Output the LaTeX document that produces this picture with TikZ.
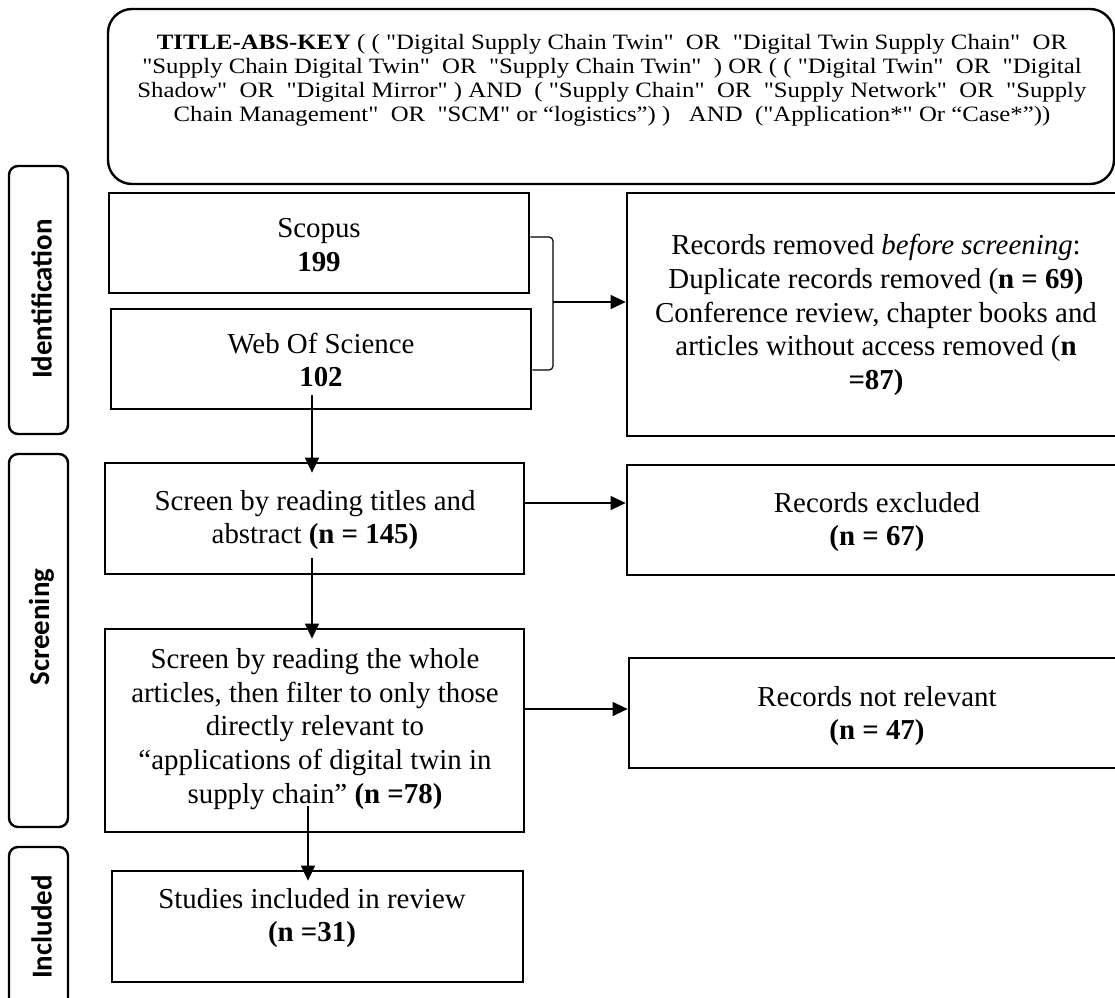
\documentclass[tikz,border=0pt]{standalone}
\usepackage{graphicx}
\usepackage{fontspec}
\setmainfont{Liberation Serif}[Ligatures=TeXOff]
\newfontfamily\labelfont{Carlito}
\usetikzlibrary{arrows.meta}

\begin{document}
\begin{tikzpicture}[x=1bp,y=-1bp,
  box/.style={draw, line width=2.7bp, inner sep=0pt},
  phase/.style={draw, line width=2.4bp, rounded corners=9bp, inner sep=0pt},
  txt/.style={align=center, font=\fontsize{29}{34}\selectfont, inner sep=0pt},
  qtxt/.style={inner sep=0pt, font=\fontsize{22}{24}\selectfont},
  flow/.style={line width=1.2bp, -{Triangle[length=15bp,width=14bp]}},
  link/.style={line width=1.2bp, rounded corners=4bp},
  phaselabel/.style={font=\labelfont\bfseries\fontsize{29}{30}\selectfont, rotate=90, inner sep=0pt}
]
\useasboundingbox (0,0) rectangle (1115,998);
\clip (0,0) rectangle (1115,998);

% search string
\node[draw, line width=2.4bp, rounded corners=24bp, minimum width=1006bp, minimum height=175bp] (query) at (611,96.5) {};
\node[qtxt] (querytxt) at (612,81) {\scalebox{1.13}[1]{\begin{tabular}{@{}c@{}}
\textbf{TITLE-ABS-KEY} ( ( "Digital Supply Chain Twin"\ \ OR\ \ "Digital Twin Supply Chain"\ \ OR\\
"Supply Chain Digital Twin"\ \ OR\ \ "Supply Chain Twin"\ \ ) OR\ ( ( "Digital Twin"\ \ OR\ \ "Digital\\
Shadow"\ \ OR\ \ "Digital Mirror" ) AND\ \ ( "Supply Chain"\ \ OR\ \ "Supply Network"\ \ OR\ \ "Supply\\
Chain Management"\ \ OR\ \ "SCM" or “logistics”) )\ \ \ AND\ \ ("Application*" Or “Case*”))
\end{tabular}}};

% phase labels
\node[phase, minimum width=59bp, minimum height=268bp] (idbox) at (38.5,300) {};
\node[phaselabel] (idlabel) at (41.5,299) {Identification};
\node[phase, minimum width=59bp, minimum height=373bp] (scbox) at (38.5,640.5) {};
\node[phaselabel] (sclabel) at (41.5,627) {Screening};
\node[phase, minimum width=59bp, minimum height=170bp] (inbox) at (38.5,932) {};
\node[phaselabel] (inlabel) at (41.5,927) {Included};

% identification
\node[box, minimum width=420bp, minimum height=100bp] (scopus) at (319,243) {};
\node[txt] (scopustxt) at (319,245) {Scopus\\\textbf{199}};
\node[box, minimum width=420bp, minimum height=100bp] (wos) at (321,359) {};
\node[txt] (wostxt) at (321,360) {Web Of Science\\\textbf{102}};

\node[box, minimum width=500bp, minimum height=243bp] (removed) at (877,314.5) {};
\node[txt] (removedtxt) at (876,315) {Records removed \textit{before screening}:\\
Duplicate records removed (\textbf{n = 69)}\\
Conference review, chapter books and\\
articles without access removed (\textbf{n}\\
\textbf{=87)}};

% screening
\node[box, minimum width=419bp, minimum height=111bp] (titles) at (314.5,518.5) {};
\node[txt] (titlestxt) at (315,520) {Screen by reading titles and\\abstract \textbf{(n = 145)}};
\node[box, minimum width=500bp, minimum height=110bp] (excluded) at (877,520) {};
\node[txt] (excludedtxt) at (877,522) {Records excluded\\\textbf{(n = 67)}};

\node[box, minimum width=419bp, minimum height=203bp] (whole) at (314.5,730.5) {};
\node[txt] (wholetxt) at (315,729) {Screen by reading the whole\\
articles, then filter to only those\\
directly relevant to\\
“applications of digital twin in\\
supply chain” \textbf{(n =78)}};
\node[box, minimum width=500bp, minimum height=110bp] (notrel) at (879,713) {};
\node[txt] (notreltxt) at (877,716) {Records not relevant\\\textbf{(n = 47)}};

% included
\node[box, minimum width=411bp, minimum height=111bp] (studies) at (317.5,926.5) {};
\node[txt] (studiestxt) at (312,918) {Studies included in review\\\textbf{(n =31)}};

% connectors
\coordinate (brace) at (553,302);
\draw[link] (scopus.east |- 0,237) -| (brace) |- (wos.east |- 0,370);
\draw[flow] (brace) -- (removed.west |- brace);

\coordinate (s1) at (312,395);
\draw[flow, shorten >=-11bp] (s1) -- (s1 |- titles.north);
\coordinate (s2) at (312,558);
\draw[flow, shorten >=-11bp] (s2) -- (s2 |- whole.north);
\coordinate (s3) at (308,806);
\draw[flow, shorten >=-11bp] (s3) -- (s3 |- studies.north);

\draw[flow] (titles.east |- 0,503) -- (excluded.west |- 0,503);
\draw[flow] (whole.east |- 0,709) -- (notrel.west |- 0,709);
\end{tikzpicture}
\end{document}
